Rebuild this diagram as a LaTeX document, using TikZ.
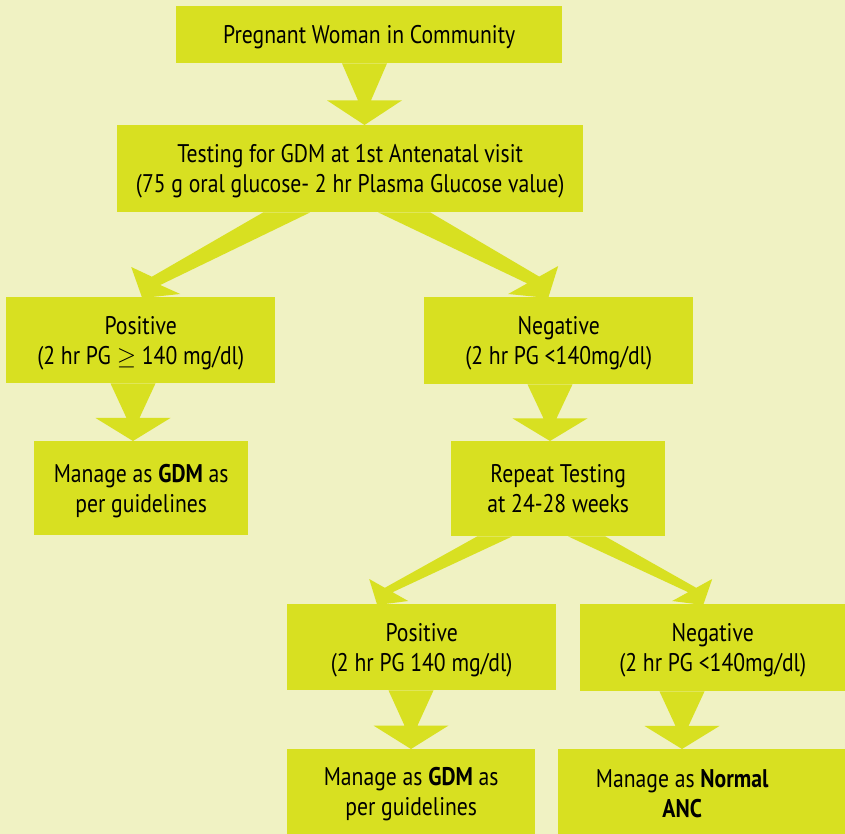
\documentclass[tikz,border=0pt]{standalone}
\usepackage{fontspec}
\setmainfont[FakeStretch=0.85]{PT Sans}
\usetikzlibrary{calc}
\definecolor{bgc}{HTML}{F0F2C3}
\definecolor{limec}{HTML}{D8E021}
\tikzset{
  box/.style={fill=limec, draw=none, anchor=north west, align=center, inner sep=0pt,
    text depth=0pt, font=\fontsize{25.5}{30}\selectfont},
  arr/.style={fill=limec, draw=none}
}
\newcommand\varr[3]{%
  \fill[arr] let \p1=(#1.south), \p2=(#2.north), \n1={\y2+0.4*(\y1-\y2)} in
    ({#3pt-22.5pt},\y1) -- ({#3pt+22.5pt},\y1) -- ({#3pt+6.5pt},\n1) --
    ({#3pt+37.5pt},\n1) -- (#3pt,\y2) -- ({#3pt-37.5pt},\n1) --
    ({#3pt-6.5pt},\n1) -- cycle;}
\begin{document}
\begin{tikzpicture}[x=1pt,y=-1pt]
\useasboundingbox (0,0) rectangle (845,834);
\fill[bgc] (0,0) rectangle (845,834);
% boxes
\node[box, minimum width=386pt, minimum height=57pt] (b1) at (176,6) {Pregnant Woman in Community};
\node[box, minimum width=466pt, minimum height=87pt] (b2) at (117,125) {Testing for GDM at 1st Antenatal visit\\(75 g oral glucose- 2 hr Plasma Glucose value)};
\node[box, minimum width=269pt, minimum height=86pt] (b3) at (6,297) {Positive\\(2 hr PG $\geq$ 140 mg/dl)};
\node[box, minimum width=269pt, minimum height=87pt] (b4) at (424,297) {Negative\\(2 hr PG <140mg/dl)};
\node[box, minimum width=214pt, minimum height=94pt] (b5) at (34,441) {Manage as \textbf{GDM} as\\per guidelines};
\node[box, minimum width=214pt, minimum height=95pt] (b6) at (451,441) {Repeat Testing\\at 24-28 weeks};
\node[box, minimum width=269pt, minimum height=86pt] (b7) at (287,604) {Positive\\(2 hr PG 140 mg/dl)};
\node[box, minimum width=265pt, minimum height=87pt] (b8) at (580,604) {Negative\\(2 hr PG <140mg/dl)};
\node[box, minimum width=248pt, minimum height=85pt] (b9) at (287,749) {Manage as \textbf{GDM} as\\per guidelines};
\node[box, minimum width=287pt, minimum height=85pt] (b10) at (558,749) {\begin{tabular}[b]{@{}c@{\hspace{39pt}}}Manage as \textbf{Normal}\\\textbf{ANC}\end{tabular}};
% vertical block arrows
\varr{b1}{b2}{364.5}
\varr{b3}{b5}{133}
\varr{b4}{b6}{550}
\varr{b7}{b9}{411}
\varr{b8}{b10}{682}
% diagonal block arrows
\fill[arr] ($(b2.south)+(-87,0)$) -- ($(b2.south)+(-40,0)$) -- ($(b3.north)+(19.5,-12)$) -- ($(b3.north)+(39.5,-3)$) -- ($(b3.north)+(1.5,1)$) -- ($(b3.north)+(-9.5,-30)$) -- ($(b3.north)+(11.2,-20.3)$) -- cycle;
\fill[arr] ($(b2.south)+(28,0)$) -- ($(b4.north)+(-31.5,-13.6)$) -- ($(b4.north)+(-50.5,-3)$) -- ($(b4.north)+(-10.5,1)$) -- ($(b4.north)+(-0.5,-31)$) -- ($(b4.north)+(-19.5,-20.4)$) -- ($(b2.south)+(80,0)$) -- cycle;
\fill[arr] ($(b6.south)+(-81,0)$) -- ($(b6.south)+(-46,0)$) -- ($(b7.north)+(-29.1,-11.8)$) -- ($(b7.north)+(-13.5,-3)$) -- ($(b7.north)+(-44.5,1)$) -- ($(b7.north)+(-52.5,-25)$) -- ($(b7.north)+(-36.9,-16.2)$) -- cycle;
\fill[arr] ($(b6.south)+(10,0)$) -- ($(b8.north)+(-24.5,-11.8)$) -- ($(b8.north)+(-40.5,-3)$) -- ($(b8.north)+(-9.5,1)$) -- ($(b8.north)+(-0.5,-25)$) -- ($(b8.north)+(-16.5,-16.2)$) -- ($(b6.south)+(47,0)$) -- cycle;
\end{tikzpicture}
\end{document}
